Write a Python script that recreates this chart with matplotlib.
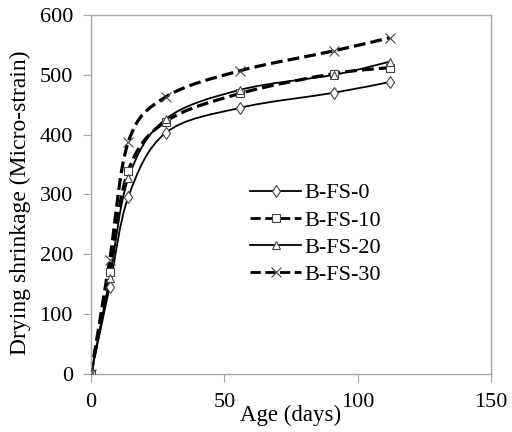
import numpy as np
import matplotlib
matplotlib.use("Agg")
import matplotlib.pyplot as plt
from matplotlib.path import Path
from matplotlib.patches import PathPatch
from matplotlib.lines import Line2D

plt.rcParams['font.family'] = ['Liberation Serif', 'DejaVu Serif']

days = [0, 7, 14, 28, 56, 91, 112]
fs0 = [0, 146, 296, 403, 445, 470, 488]
fs10 = [0, 170, 340, 422, 469, 502, 512]
fs20 = [0, 160, 327, 426, 475, 500, 522]
fs30 = [0, 190, 388, 463, 507, 540, 562]

labels = ["B-FS-0", "B-FS-10", "B-FS-20", "B-FS-30"]
series = [fs0, fs10, fs20, fs30]
markers = ["d", "s", "^", "x"]
styles = ["-", "--", "-", "--"]
widths = [1.3, 2.3, 1.3, 2.3]
msizes = [6, 6, 6, 7]


def smooth_path(ax, xs, ys):
    # excel style smoothed line: bezier control points computed in pixel space
    pts = ax.transData.transform(np.column_stack([xs, ys]))
    verts = [pts[0]]
    codes = [Path.MOVETO]
    n = len(pts)
    for i in range(n - 1):
        p0 = pts[i - 1] if i > 0 else pts[i]
        p1 = pts[i]
        p2 = pts[i + 1]
        p3 = pts[i + 2] if i + 2 < n else pts[i + 1]
        c1 = p1 + (p2 - p0) / 6.0
        c2 = p2 - (p3 - p1) / 6.0
        verts += [c1, c2, p2]
        codes += [Path.CURVE4] * 3
    verts = ax.transData.inverted().transform(np.array(verts))
    return Path(verts, codes)


fig = plt.figure(figsize=(5.12, 4.32), dpi=100)
ax = fig.add_axes([91 / 512, 1 - 374 / 432, 400 / 512, 359 / 432])
ax.set_xlim(0, 150)
ax.set_ylim(0, 600)

handles = []
for lab, ys, mk, ls, lw, ms in zip(labels, series, markers, styles, widths, msizes):
    p = smooth_path(ax, days, ys)
    ax.add_patch(PathPatch(p, fill=False, edgecolor="black", linewidth=lw,
                           linestyle=ls, zorder=2))
    ax.plot(days, ys, linestyle="none", marker=mk, markersize=ms,
            markerfacecolor="white" if mk != "x" else "none",
            markeredgecolor="#444444", markeredgewidth=0.8, zorder=3)
    # legend lines are a bit thinner than the plotted curves
    handles.append(Line2D([], [], color="black", linewidth=min(lw, 2.0), linestyle=ls,
                          marker=mk, markersize=ms, markerfacecolor="white",
                          markeredgecolor="#444444", markeredgewidth=0.8))

for s in ax.spines.values():
    s.set_color("#a6a6a6")
    s.set_linewidth(1.0)

ax.set_xticks([0, 50, 100, 150])
ax.set_yticks([0, 100, 200, 300, 400, 500, 600])
ax.tick_params(direction="out", length=6, color="#a6a6a6", labelsize=16,
               pad=7)
ax.tick_params(axis="x", pad=8)

fig.text(291 / 512, 1 - 415 / 432, "Age (days)", fontsize=16.5,
         ha="center", va="center")
fig.text(20 / 512, 1 - 203 / 432, "Drying shrinkage (Micro-strain)",
         fontsize=17, rotation=90, ha="center", va="center")

ax.legend(handles=handles, labels=labels, loc="center left",
          bbox_to_anchor=(230 / 512, 1 - 234 / 432), bbox_transform=fig.transFigure,
          frameon=False, fontsize=16, handlelength=2.3, handletextpad=0.15,
          labelspacing=0.3)

fig.savefig("out.png", dpi=100)
